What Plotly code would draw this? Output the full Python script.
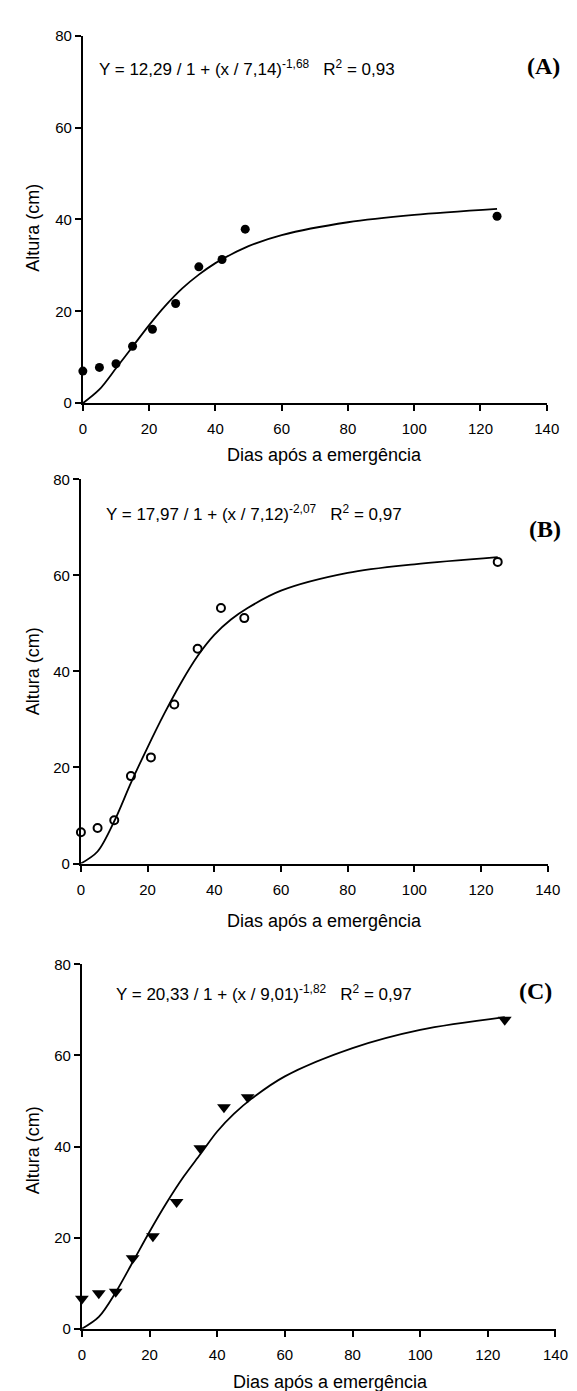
import plotly.graph_objects as go

W, H = 577, 1391

# ---- data ----
days = [0, 5, 10, 15, 21, 28, 35, 42, 49, 125]
height_a = [7.0, 7.8, 8.6, 12.4, 16.1, 21.7, 29.7, 31.3, 37.9, 40.7]
height_b = [6.5, 7.4, 9.0, 18.2, 22.1, 33.1, 44.7, 53.2, 51.1, 62.8]
height_c = [6.6, 7.8, 8.1, 15.5, 20.3, 27.8, 39.6, 48.6, 50.8, 67.8]

fit_x = [0, 5, 10, 15, 20, 25, 30, 35, 40, 45, 50, 60, 80, 100, 125]
fit_a = [0, 3.0, 7.6, 12.3, 17.0, 21.3, 25.0, 28.0, 30.5, 32.5, 34.2, 36.6, 39.4, 41.0, 42.3]
fit_b = [0, 2.5, 8.8, 16.8, 24.2, 31.2, 37.6, 43.2, 47.6, 50.8, 53.2, 56.8, 60.5, 62.3, 63.8]
fit_c = [0, 2.6, 8.0, 14.6, 21.3, 27.6, 33.3, 38.3, 43.3, 47.2, 50.4, 55.4, 61.6, 65.6, 68.4]

x_ticks = [0, 20, 40, 60, 80, 100, 120, 140]
y_ticks = [0, 20, 40, 60, 80]

equations = [
    "Y = 12,29 / 1 + (x / 7,14)<sup>-1,68</sup>   R<sup>2</sup> = 0,93",
    "Y = 17,97 / 1 + (x / 7,12)<sup>-2,07</sup>   R<sup>2</sup> = 0,97",
    "Y = 20,33 / 1 + (x / 9,01)<sup>-1,82</sup>   R<sup>2</sup> = 0,97",
]
panel_labels = ["(A)", "(B)", "(C)"]
x_title = "Dias após a emergência"
y_title = "Altura (cm)"

# ---- layout geometry (pixels) ----
panels = [
    # x0, x1, ytop, ybottom
    (73, 551, 19, 391),
    (71, 552, 468, 857),
    (72, 560, 959, 1328),
]
eq_pos = [(88, 52), (95, 502), (105, 988)]
lab_pos = [(567, 50), (568, 518), (558, 986)]
xt_pos = [(322, 443), (322, 915), (328, 1382)]
yt_pos = [(22, 213), (22, 662), (22, 1147)]

FONT = "Arial, Liberation Sans, sans-serif"

def fx(px):
    return px / W

def fy(py):
    return 1 - py / H

fig = go.Figure()

series = [height_a, height_b, height_c]
fits = [fit_a, fit_b, fit_c]
markers = [
    dict(symbol="circle", size=9, color="black"),
    dict(symbol="circle-open", size=8, color="black", line=dict(width=2, color="black")),
    dict(symbol="triangle-down", size=12, color="black"),
]

for i in range(3):
    xa = "x" if i == 0 else f"x{i+1}"
    ya = "y" if i == 0 else f"y{i+1}"
    fig.add_trace(go.Scatter(x=fit_x, y=fits[i], mode="lines",
                             line=dict(color="black", width=1.8, shape="spline", smoothing=0.9),
                             xaxis=xa, yaxis=ya, showlegend=False, hoverinfo="skip"))
    fig.add_trace(go.Scatter(x=days, y=series[i], mode="markers", marker=markers[i],
                             xaxis=xa, yaxis=ya, showlegend=False, cliponaxis=False))

axis_common = dict(showline=True, linecolor="black", linewidth=2, ticks="outside",
                   ticklen=6, tickwidth=2, tickcolor="black", showgrid=False,
                   zeroline=False, tickfont=dict(family=FONT, size=15, color="black"))

layout = dict(width=W, height=H, margin=dict(l=0, r=0, t=0, b=0),
              plot_bgcolor="white", paper_bgcolor="white", showlegend=False)

annotations = []
for i, (x0, x1, yt, yb) in enumerate(panels):
    sx = "" if i == 0 else str(i + 1)
    layout["xaxis" + sx] = dict(domain=[fx(x0), fx(x1)], range=[0, 140], tickvals=x_ticks,
                                anchor="y" + sx, ticklabelstandoff=5, **axis_common)
    layout["yaxis" + sx] = dict(domain=[fy(yb), fy(yt)], range=[0, 80], tickvals=y_ticks,
                                anchor="x" + sx, **axis_common)
    ex, ey = eq_pos[i]
    annotations.append(dict(x=fx(ex), y=fy(ey), xref="paper", yref="paper", text=equations[i],
                            showarrow=False, xanchor="left", yanchor="middle",
                            font=dict(family=FONT, size=17, color="black")))
    lx, ly = lab_pos[i]
    annotations.append(dict(x=fx(lx), y=fy(ly), xref="paper", yref="paper", text="<b>" + panel_labels[i] + "</b>",
                            showarrow=False, xanchor="right", yanchor="middle",
                            font=dict(family="Liberation Serif, Times New Roman, serif", size=24, color="black")))
    tx, ty = xt_pos[i]
    annotations.append(dict(x=fx(tx), y=fy(ty), xref="paper", yref="paper", text=x_title,
                            showarrow=False, xanchor="center", yanchor="middle",
                            font=dict(family=FONT, size=18, color="black")))
    yx, yy = yt_pos[i]
    annotations.append(dict(x=fx(yx), y=fy(yy), xref="paper", yref="paper", text=y_title,
                            showarrow=False, xanchor="center", yanchor="middle", textangle=-90,
                            font=dict(family=FONT, size=18, color="black")))

layout["annotations"] = annotations
fig.update_layout(**layout)
fig.write_html("out.html")
